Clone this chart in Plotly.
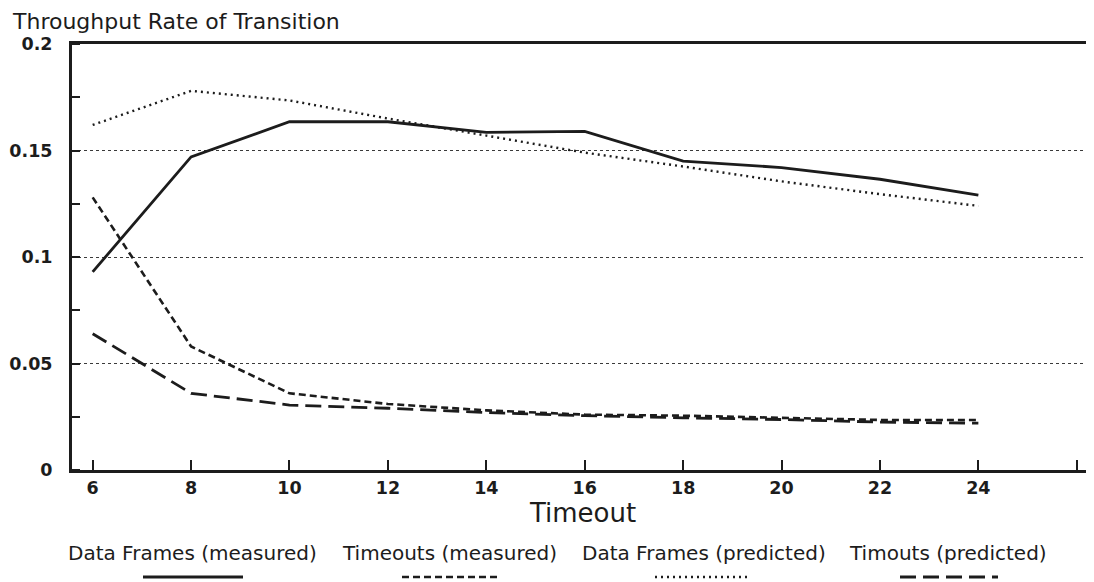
import plotly.graph_objects as go

# ---- data ----
timeout = [6, 8, 10, 12, 14, 16, 18, 20, 22, 24]
data_frames_measured = [0.093, 0.147, 0.1635, 0.1635, 0.1585, 0.159, 0.145, 0.142, 0.1365, 0.129]
timeouts_measured = [0.128, 0.058, 0.036, 0.031, 0.028, 0.026, 0.0255, 0.0245, 0.0235, 0.0235]
data_frames_predicted = [0.162, 0.178, 0.1735, 0.165, 0.157, 0.149, 0.1425, 0.1355, 0.1295, 0.124]
timeouts_predicted = [0.064, 0.036, 0.0305, 0.029, 0.027, 0.0255, 0.0245, 0.0237, 0.0225, 0.022]

series_names = ["Data Frames (measured)", "Timeouts (measured)",
                "Data Frames (predicted)", "Timouts (predicted)"]
x_tick_vals = [6, 8, 10, 12, 14, 16, 18, 20, 22, 24, 26]
x_tick_text = ["6", "8", "10", "12", "14", "16", "18", "20", "22", "24", ""]
y_tick_vals = [0, 0.05, 0.1, 0.15, 0.2]
y_tick_text = ["0", "0.05", "0.1", "0.15", "0.2"]

INK = "#1c1c1c"
FONT = "DejaVu Sans, Liberation Sans, Arial, sans-serif"
styles = [
    dict(dash="solid", width=2.8),
    dict(dash="7px,4px", width=2.6),
    dict(dash="2px,4px", width=2.4),
    dict(dash="16px,7px", width=2.8),
]
series = [data_frames_measured, timeouts_measured, data_frames_predicted, timeouts_predicted]

fig = go.Figure()
for name, ys, st in zip(series_names, series, styles):
    fig.add_trace(go.Scatter(x=timeout, y=ys, mode="lines", name=name,
                             line=dict(color=INK, width=st["width"], dash=st["dash"]),
                             showlegend=False))

# page body has an 8px margin: work in window pixels, then subtract it
OFF = 8
W, H = 1094 - OFF, 582 - OFF
L, T = 72 - OFF, 44 - OFF
BOTTOM = 470 - OFF
R, B = 0, H - BOTTOM
pw, ph = W - L - R, H - T - B

def px(xw):
    return (xw - OFF - L) / pw

def py(yw):
    return (BOTTOM - (yw - OFF)) / ph

fig.update_layout(
    width=W, height=H,
    margin=dict(l=L, r=R, t=T, b=B, pad=0),
    paper_bgcolor="white", plot_bgcolor="white",
    font=dict(family=FONT, color=INK),
    xaxis=dict(range=[5.58, 26.35], tickvals=x_tick_vals, ticktext=x_tick_text,
               ticks="inside", ticklen=10, tickwidth=1.5, tickcolor=INK,
               showline=True, linewidth=3, linecolor=INK, mirror=True,
               showgrid=False, zeroline=False,
               tickfont=dict(size=17.5, family=FONT, color=INK, weight="bold"),
               title=dict(text="Timeout", font=dict(size=26, color=INK, family=FONT), standoff=4)),
    yaxis=dict(range=[0, 0.2], tickvals=y_tick_vals, ticktext=y_tick_text,
               ticks="", showline=True, linewidth=3, linecolor=INK,
               showgrid=True, gridcolor="#3a3a3a", griddash="dot", gridwidth=1,
               zeroline=False, ticklabelstandoff=13,
               tickfont=dict(size=17.5, family=FONT, color=INK, weight="bold"),
               minor=dict(dtick=0.025, tick0=0.025, ticks="inside", ticklen=8,
                          tickwidth=1.5, tickcolor=INK, showgrid=False)),
)

# title (box starts at the very top of the page)
fig.add_annotation(text="Throughput Rate of Transition", xref="paper", yref="paper",
                   x=px(11), y=py(OFF), xanchor="left", yanchor="top", showarrow=False,
                   borderpad=0, font=dict(size=22, color=INK, family=FONT))

# legend: text above, sample line below
leg_text_cx = [192, 449, 704, 948]
leg_line = [(143, 243), (402, 498), (655, 748), (900, 998)]
for name, cx, (x0, x1), st in zip(series_names, leg_text_cx, leg_line, styles):
    fig.add_annotation(text=name, xref="paper", yref="paper", x=px(cx), y=py(553),
                       xanchor="center", yanchor="middle", showarrow=False,
                       font=dict(size=20, color=INK, family=FONT))
    fig.add_shape(type="line", xref="paper", yref="paper",
                  x0=px(x0), x1=px(x1), y0=py(577), y1=py(577),
                  line=dict(color=INK, width=st["width"], dash=st["dash"]))

fig.write_html("out.html")
